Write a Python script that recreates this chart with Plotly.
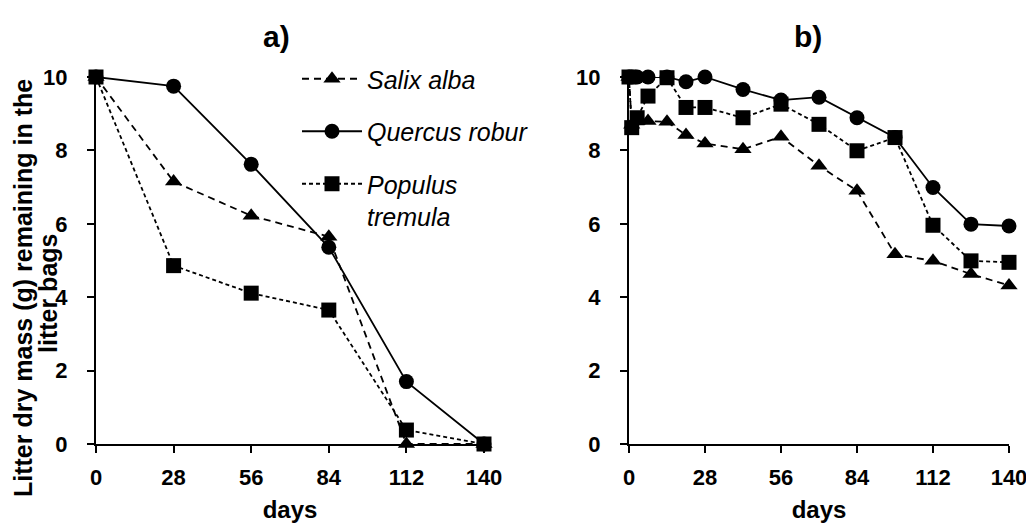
import plotly.graph_objects as go

# ---- data ----
days_a = [0, 28, 56, 84, 112, 140]
salix_a = [10.0, 7.15, 6.22, 5.65, 0.0, 0.0]
quercus_a = [10.0, 9.75, 7.62, 5.36, 1.70, 0.0]
populus_a = [10.0, 4.86, 4.11, 3.65, 0.38, 0.0]

days_b = [0, 1, 3, 7, 14, 21, 28, 42, 56, 70, 84, 98, 112, 126, 140]
salix_b = [10.0, 8.7, 8.8, 8.8, 8.78, 8.42, 8.19, 8.03, 8.37, 7.58, 6.9, 5.17, 4.99, 4.63, 4.32]
quercus_b = [10.0, 10.0, 10.0, 10.0, 10.0, 9.87, 10.0, 9.66, 9.37, 9.45, 8.89, 8.35, 6.99, 5.99, 5.94]
populus_b = [10.0, 8.62, 8.89, 9.48, 9.98, 9.17, 9.17, 8.89, 9.26, 8.71, 7.99, 8.35, 5.96, 4.99, 4.95]

x_ticks = [0, 28, 56, 84, 112, 140]
y_ticks = [0, 2, 4, 6, 8, 10]

names = ["Salix alba", "Quercus robur", "Populus<br>tremula"]
symbols = ["triangle-up", "circle", "square"]
dashes = ["7px,5px", "solid", "4px,3px"]
ytitle_lines = ["Litter dry mass (g) remaining in the", "litter bags"]

FONT = "Liberation Sans, Arial, sans-serif"
OFF = 8  # page body margin
W, H = 1034 - OFF, 527 - OFF


def px(x):
    return (x - OFF) / W


def py(y):
    return 1 - (y - OFF) / H


fig = go.Figure()

series_a = [salix_a, quercus_a, populus_a]
series_b = [salix_b, quercus_b, populus_b]
for i in range(3):
    fig.add_trace(go.Scatter(
        x=days_a, y=series_a[i], name=names[i], mode="lines+markers",
        line=dict(color="black", width=1.8, dash=dashes[i]),
        marker=dict(symbol=symbols[i], size=15, color="black"),
        cliponaxis=False, legendgroup=str(i), showlegend=True,
        xaxis="x", yaxis="y"))
for i in range(3):
    fig.add_trace(go.Scatter(
        x=days_b, y=series_b[i], name=names[i], mode="lines+markers",
        line=dict(color="black", width=1.8, dash=dashes[i]),
        marker=dict(symbol=symbols[i], size=15, color="black"),
        cliponaxis=False, legendgroup=str(i), showlegend=False,
        xaxis="x2", yaxis="y2"))

y_dom = [py(444), py(77)]

axis_common = dict(
    showgrid=False, zeroline=False, showline=True, linecolor="black", linewidth=2,
    ticks="outside", ticklen=7, tickwidth=2, tickcolor="black", automargin=False,
    tickfont=dict(family=FONT, size=22, color="black", weight="bold"),
)
xtitle = dict(text="days", font=dict(family=FONT, size=24, weight="bold"), standoff=12)

annotations = [
    dict(text="<b>a)</b>", x=px(276), y=py(36), xref="paper", yref="paper",
         xanchor="center", yanchor="middle",
         showarrow=False, font=dict(family=FONT, size=30, color="black")),
    dict(text="<b>b)</b>", x=px(808), y=py(36), xref="paper", yref="paper",
         xanchor="center", yanchor="middle",
         showarrow=False, font=dict(family=FONT, size=30, color="black")),
]
for line_text, cx, cy in zip(ytitle_lines, [23, 48], [288, 294]):
    annotations.append(dict(
        text="<b>" + line_text + "</b>", x=px(cx), y=py(cy), xref="paper", yref="paper",
        textangle=-90, xanchor="center", yanchor="middle", showarrow=False,
        font=dict(family=FONT, size=25, color="black")))

fig.update_layout(
    width=W, height=H,
    margin=dict(l=0, r=0, t=0, b=0, autoexpand=False),
    paper_bgcolor="white", plot_bgcolor="white",
    font=dict(family=FONT, color="black"),
    xaxis=dict(domain=[px(96), px(484)], range=[0, 140], tickvals=x_ticks,
               anchor="y", ticklabelstandoff=6, title=xtitle, **axis_common),
    yaxis=dict(domain=y_dom, range=[0, 10], tickvals=y_ticks,
               anchor="x", ticklabelstandoff=15, **axis_common),
    xaxis2=dict(domain=[px(629), px(1009)], range=[0, 140], tickvals=x_ticks,
                anchor="y2", ticklabelstandoff=6, title=xtitle, **axis_common),
    yaxis2=dict(domain=y_dom, range=[0, 10], tickvals=y_ticks,
                anchor="x2", ticklabelstandoff=15, **axis_common),
    showlegend=True,
    legend=dict(x=px(297), y=py(56), xanchor="left", yanchor="top",
                font=dict(family=FONT, size=25, style="italic", color="black"),
                bgcolor="rgba(0,0,0,0)", tracegroupgap=17, valign="top",
                itemwidth=60),
    annotations=annotations,
)

fig.write_html("out.html")
